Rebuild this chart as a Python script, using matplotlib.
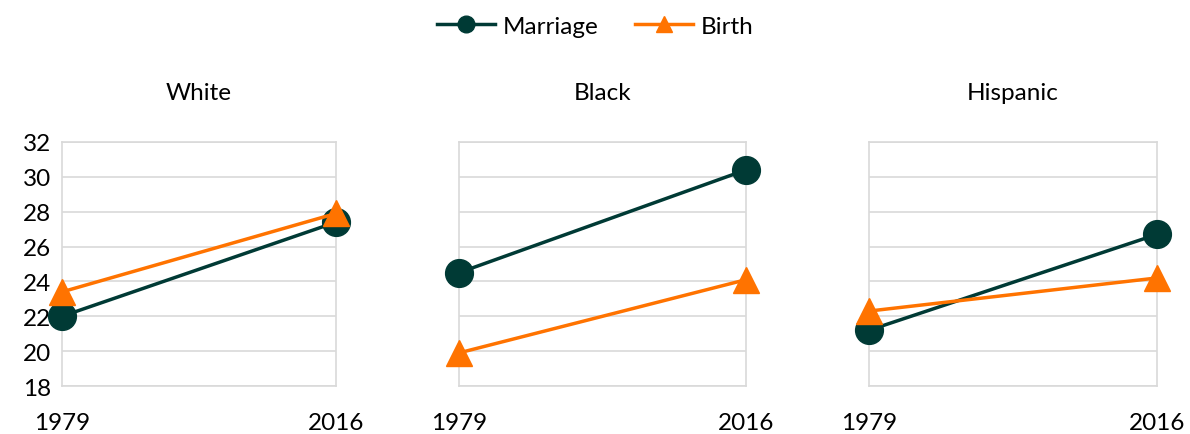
import matplotlib.pyplot as plt

plt.rcParams['font.family'] = ['Lato', 'DejaVu Sans']

years = ['1979', '2016']
groups = ['White', 'Black', 'Hispanic']
marriage = [[22.0, 27.4], [24.5, 30.4], [21.2, 26.7]]
birth = [[23.4, 27.9], [19.9, 24.1], [22.3, 24.2]]

green = '#003a35'
orange = '#ff7300'
grid_c = '#d9d9d9'

fig = plt.figure(figsize=(11.9, 4.35), dpi=100)
boxes = [(0.0521, 0.1103, 0.2303, 0.561),
         (0.3857, 0.1103, 0.2412, 0.561),
         (0.7303, 0.1103, 0.2420, 0.561)]

x = range(len(years))
for i, (name, box) in enumerate(zip(groups, boxes)):
    ax = fig.add_axes(box)
    lm, = ax.plot(x, marriage[i], color=green, lw=2.5, marker='o', ms=20,
                  clip_on=False, zorder=3, label='Marriage')
    lb, = ax.plot(x, birth[i], color=orange, lw=2.5, marker='^', ms=19,
                  clip_on=False, zorder=4, label='Birth')
    ax.set_xlim(0, 1)
    ax.set_ylim(18, 32)
    ax.set_yticks(range(18, 33, 2))
    ax.set_xticks(list(x))
    ax.set_xticklabels(years)
    ax.grid(axis='y', color=grid_c, lw=1.2)
    for s in ax.spines.values():
        s.set_color(grid_c)
        s.set_linewidth(1.2)
    ax.tick_params(length=0, labelsize=17.5, pad=19, axis='x')
    ax.tick_params(length=0, labelsize=17.5, pad=8, axis='y')
    if i > 0:
        ax.set_yticklabels([])
    ax.set_title(name, fontsize=17.5, pad=31)

fig.legend([lm, lb], ['Marriage', 'Birth'], loc='center', bbox_to_anchor=(0.5, 0.937),
           ncol=2, frameon=False, fontsize=17.5, handlelength=2.4, columnspacing=1.5,
           handletextpad=0.3, markerscale=0.6)

fig.savefig('out.png', dpi=100)
